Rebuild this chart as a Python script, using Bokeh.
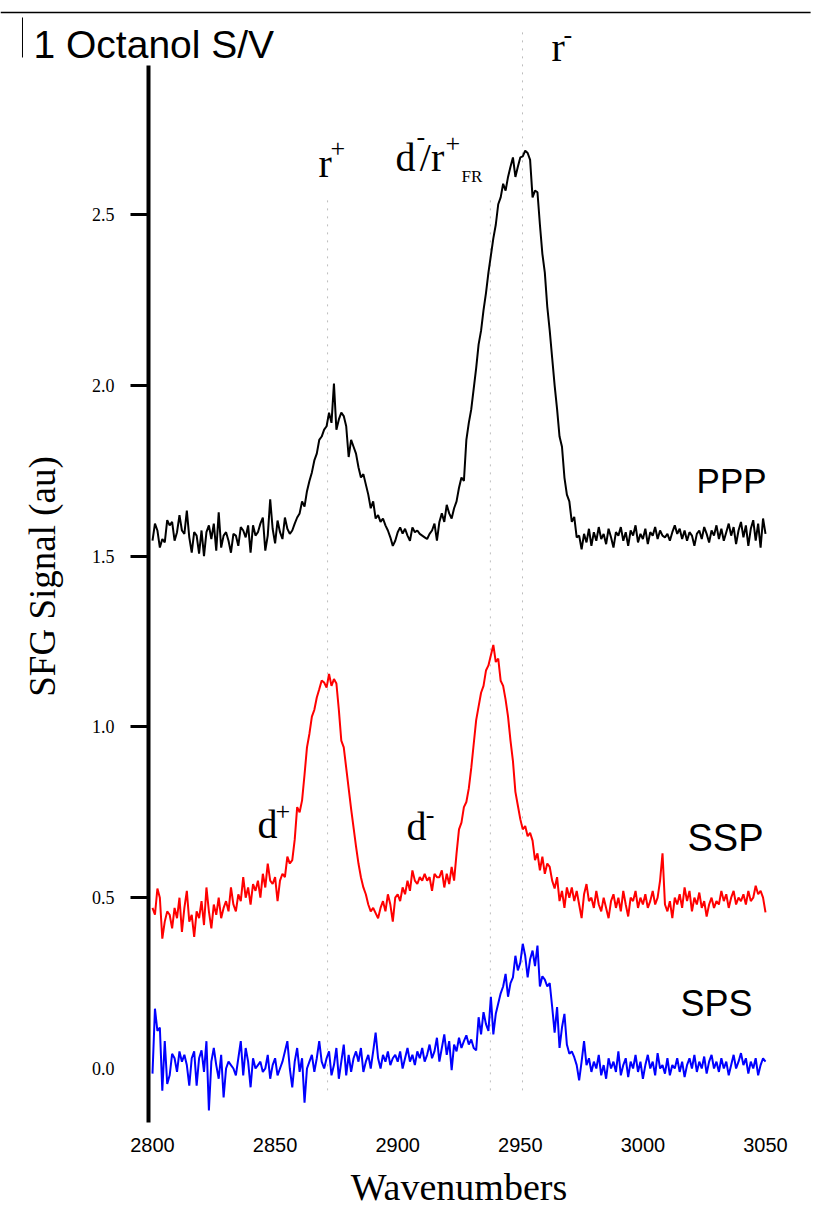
from bokeh.plotting import figure
from bokeh.models import Range1d, FixedTicker, Label, ColumnDataSource, PrintfTickFormatter
from bokeh.embed import file_html
from bokeh.resources import INLINE

wavenumbers = list(range(2800, 3051))

ppp = [
    1.545, 1.595, 1.575, 1.525, 1.55, 1.54, 1.605, 1.59, 1.60, 1.545,
    1.57, 1.62, 1.575, 1.565, 1.633, 1.555, 1.51, 1.57, 1.56, 1.507,
    1.575, 1.50, 1.57, 1.59, 1.55, 1.595, 1.516, 1.628, 1.525, 1.56,
    1.57, 1.545, 1.51, 1.565, 1.56, 1.53, 1.585, 1.575, 1.555, 1.59,
    1.51, 1.59, 1.56, 1.57, 1.595, 1.613, 1.516, 1.56, 1.666, 1.58,
    1.537, 1.604, 1.57, 1.55, 1.613, 1.58, 1.565, 1.575, 1.595, 1.613,
    1.625, 1.66, 1.645, 1.69, 1.72, 1.745, 1.78, 1.80, 1.84, 1.85,
    1.87, 1.88, 1.92, 1.89, 2.005, 1.87, 1.90, 1.92, 1.91, 1.88,
    1.79, 1.84, 1.82, 1.80, 1.76, 1.73, 1.74, 1.71, 1.68, 1.64,
    1.66, 1.61, 1.62, 1.60, 1.61, 1.59, 1.575, 1.555, 1.53, 1.545,
    1.57, 1.584, 1.566, 1.58, 1.56, 1.545, 1.584, 1.57, 1.575, 1.565,
    1.56, 1.555, 1.55, 1.565, 1.575, 1.595, 1.545, 1.60, 1.625, 1.60,
    1.65, 1.625, 1.61, 1.64, 1.66, 1.70, 1.73, 1.72, 1.84, 1.89,
    1.93, 1.99, 2.05, 2.12, 2.16, 2.22, 2.27, 2.33, 2.38, 2.43,
    2.47, 2.53, 2.55, 2.59, 2.57, 2.61, 2.64, 2.667, 2.61, 2.64,
    2.667, 2.67, 2.687, 2.68, 2.66, 2.55, 2.57, 2.565, 2.47, 2.385,
    2.33, 2.23, 2.16, 2.08, 2.00, 1.93, 1.85, 1.82, 1.73, 1.68,
    1.66, 1.60, 1.615, 1.555, 1.56, 1.52, 1.565, 1.54, 1.58, 1.53,
    1.57, 1.545, 1.585, 1.55, 1.565, 1.535, 1.58, 1.555, 1.525, 1.57,
    1.56, 1.585, 1.545, 1.57, 1.53, 1.575, 1.56, 1.59, 1.54, 1.565,
    1.55, 1.58, 1.535, 1.57, 1.56, 1.585, 1.55, 1.575, 1.56, 1.555,
    1.565, 1.545, 1.57, 1.59, 1.565, 1.58, 1.55, 1.575, 1.545, 1.57,
    1.56, 1.53, 1.565, 1.575, 1.55, 1.585, 1.565, 1.54, 1.575, 1.56,
    1.59, 1.55, 1.58, 1.545, 1.57, 1.595, 1.56, 1.585, 1.535, 1.575,
    1.6, 1.555, 1.59, 1.53, 1.58, 1.605, 1.545, 1.595, 1.525, 1.61,
    1.565,
]

ssp = [
    0.47, 0.45, 0.527, 0.50, 0.38, 0.43, 0.46, 0.45, 0.41, 0.47,
    0.44, 0.50, 0.40, 0.47, 0.52, 0.43, 0.45, 0.385, 0.46, 0.44,
    0.49, 0.42, 0.53, 0.46, 0.41, 0.48, 0.45, 0.50, 0.44, 0.47,
    0.49, 0.46, 0.53, 0.48, 0.46, 0.51, 0.49, 0.56, 0.50, 0.53,
    0.48, 0.54, 0.52, 0.55, 0.50, 0.57, 0.53, 0.60, 0.55, 0.54,
    0.56, 0.49, 0.55, 0.57, 0.56, 0.62, 0.60, 0.61, 0.67, 0.765,
    0.75, 0.785, 0.86, 0.94, 0.98, 1.03, 1.05, 1.086, 1.11, 1.136,
    1.13, 1.115, 1.155, 1.12, 1.14, 1.127, 1.05, 0.96, 0.94, 0.88,
    0.82, 0.76, 0.705, 0.65, 0.60, 0.56, 0.53, 0.51, 0.48, 0.46,
    0.47, 0.455, 0.44, 0.47, 0.49, 0.46, 0.51, 0.48, 0.43, 0.50,
    0.51, 0.49, 0.53, 0.51, 0.55, 0.52, 0.58, 0.55, 0.54, 0.56,
    0.55, 0.57, 0.55, 0.56, 0.52, 0.57, 0.56, 0.56, 0.58, 0.53,
    0.57, 0.54, 0.59, 0.55, 0.63, 0.70, 0.72, 0.765, 0.78, 0.82,
    0.88, 0.95, 1.02, 1.06, 1.10, 1.12, 1.165, 1.18, 1.21, 1.24,
    1.19, 1.20, 1.135, 1.12, 1.08, 1.03, 0.96, 0.90, 0.81, 0.77,
    0.73, 0.70, 0.71, 0.68, 0.69, 0.667, 0.61, 0.63, 0.58, 0.62,
    0.57, 0.60, 0.59, 0.55, 0.527, 0.56, 0.49, 0.52, 0.47, 0.53,
    0.50, 0.53, 0.49, 0.52, 0.48, 0.44, 0.51, 0.54, 0.49, 0.50,
    0.47, 0.52, 0.48, 0.46, 0.50, 0.47, 0.44, 0.49, 0.51, 0.47,
    0.50, 0.46, 0.52, 0.48, 0.445, 0.50, 0.49, 0.52, 0.47, 0.50,
    0.48, 0.51, 0.47, 0.49, 0.52, 0.48, 0.50, 0.55, 0.63, 0.48,
    0.46, 0.49, 0.44, 0.50, 0.48, 0.51, 0.47, 0.53, 0.49, 0.52,
    0.46, 0.50, 0.48, 0.515, 0.47, 0.49, 0.445, 0.48, 0.50, 0.47,
    0.49, 0.48, 0.52, 0.49, 0.51, 0.47, 0.50, 0.52, 0.48, 0.50,
    0.49, 0.51, 0.48, 0.52, 0.49, 0.50, 0.535, 0.51, 0.52, 0.50,
    0.457,
]

sps = [
    -0.015, 0.175, 0.11, 0.12, -0.065, 0.08, -0.045, -0.02, 0.043, 0.03,
    -0.01, 0.05, 0.02, 0.04, 0.01, -0.05, 0.03, 0.05, -0.05, 0.03,
    0.053, -0.01, 0.08, -0.123, 0.02, 0.06, 0.01, -0.03, 0.04, -0.085,
    0.0, 0.02, 0.01, 0.0, -0.02, 0.03, 0.08, -0.02, 0.06, 0.02,
    -0.055, 0.03, 0.0, 0.01, 0.02, -0.01, 0.0, 0.04, -0.03, 0.01,
    0.03, -0.02, 0.0, 0.02, 0.05, 0.08, 0.0, -0.055, 0.02, 0.06,
    -0.01, 0.03, -0.10, 0.0, 0.02, 0.04, -0.01, 0.03, 0.08, 0.02,
    0.0, 0.03, 0.05, -0.02, 0.01, 0.06, -0.03, 0.02, 0.07, -0.02,
    0.04, -0.01, 0.03, 0.05, 0.02, 0.06, -0.01, 0.02, 0.04, 0.00,
    0.05, 0.105, 0.03, 0.0, 0.04, 0.02, 0.05, 0.01, 0.03, 0.04,
    0.02, 0.05, 0.0, 0.03, 0.06, 0.02, 0.04, 0.01, 0.05, 0.03,
    0.06, 0.02, 0.04, 0.07, 0.03, 0.05, 0.09, 0.02, 0.06, 0.10,
    0.04, 0.08, -0.005, 0.07, 0.05, 0.09, 0.06, 0.08, 0.097, 0.07,
    0.085, 0.06, 0.053, 0.15, 0.10, 0.165, 0.13, 0.11, 0.21, 0.10,
    0.16, 0.19, 0.22, 0.24, 0.277, 0.21, 0.25, 0.267, 0.33, 0.287,
    0.31, 0.365, 0.33, 0.267, 0.32, 0.345, 0.30, 0.36, 0.24, 0.27,
    0.26, 0.24, 0.25, 0.18, 0.105, 0.18, 0.06, 0.12, 0.16, 0.07,
    0.043, 0.05, 0.033, 0.01, -0.035, 0.02, 0.08, 0.01, 0.03, -0.01,
    0.02, 0.0, 0.04, -0.02, 0.01, -0.03, 0.03, 0.0, 0.02, -0.01,
    0.05, -0.02, 0.01, 0.03, -0.025, 0.02, 0.0, 0.04, -0.01, 0.02,
    -0.03, 0.01, 0.04, 0.0, 0.02, -0.02, 0.045, 0.0, 0.01, -0.015,
    0.03, -0.02, 0.01, 0.0, 0.03, -0.01, 0.02, -0.025, 0.01, 0.03,
    0.0, 0.04, -0.01, 0.02, 0.0, 0.035, -0.015, 0.02, 0.04, 0.0,
    0.02, -0.01, 0.03, 0.0, 0.02, -0.02, 0.01, 0.04, 0.0, 0.02,
    0.045, 0.01, 0.03, -0.015, 0.02, 0.0, 0.03, -0.02, 0.01, 0.03,
    0.02,
]

x_ticks = [2800, 2850, 2900, 2950, 3000, 3050]
y_ticks = [0.5, 1.0, 1.5, 2.0, 2.5]

# vertical reference lines at the assigned modes
mode_x = [2871.4, 2937.8, 2950.9]
mode_top = [2.556, 2.556, 3.039]
mode_bottom = [-0.064, -0.064, -0.064]

# peak labels: (text, x, y, font size px)
peak_labels = [
    ("r", 2867.7, 2.650, 40), ("+", 2872.6, 2.693, 26),
    ("d", 2899.1, 2.6675, 40), ("-", 2907.7, 2.728, 26),
    ("/r", 2909.0, 2.6675, 40), ("+", 2919.5, 2.709, 26),
    ("FR", 2926.0, 2.6127, 17),
    ("r", 2962.7, 2.9895, 40), ("-", 2967.6, 3.027, 26),
    ("d", 2842.8, 0.7149, 40), ("+", 2850.2, 0.7523, 26),
    ("d", 2903.6, 0.7090, 40), ("-", 2911.4, 0.7436, 26),
]

# series names: (text, x, y, font size px)
series_labels = [("PPP", 3021.9, 1.7222, 35), ("SSP", 3018.2, 0.6745, 38), ("SPS", 3015.3, 0.1894, 36)]

src = ColumnDataSource(dict(x=wavenumbers, ppp=ppp, ssp=ssp, sps=sps))

p = figure(
    frame_width=814, frame_height=1212,
    x_range=Range1d(2738.010, 3069.984), y_range=Range1d(-0.42155, 3.12646),
    min_border=0, min_border_left=0, min_border_right=0, min_border_top=0, min_border_bottom=0,
    output_backend="svg", toolbar_location=None,
)
p.outline_line_color = None
p.xgrid.visible = False
p.ygrid.visible = False
p.background_fill_color = "white"
p.border_fill_color = "white"

# dotted mode lines
p.segment(x0=mode_x, y0=mode_bottom, x1=mode_x, y1=mode_top,
          line_color="#bdbdbd", line_width=1, line_dash="2 6")

p.line("x", "ppp", source=src, line_color="black", line_width=2)
p.line("x", "ssp", source=src, line_color="#ff0000", line_width=2)
p.line("x", "sps", source=src, line_color="#0000ff", line_width=2)

# x axis (drawn at the bottom of the y extent)
xa = p.xaxis[0]
xa.fixed_location = -0.158
xa.bounds = (2800, 3050)
xa.ticker = FixedTicker(ticks=x_ticks)
xa.axis_line_color = None
xa.major_tick_line_color = None
xa.minor_tick_line_color = None
xa.major_label_text_font = "Liberation Sans"
xa.major_label_text_font_size = "20px"
xa.major_label_text_color = "black"
xa.major_label_standoff = 10
xa.axis_label = "Wavenumbers"
xa.axis_label_text_font = "Liberation Serif"
xa.axis_label_text_font_size = "38px"
xa.axis_label_text_font_style = "normal"
xa.axis_label_text_color = "black"
xa.axis_label_standoff = 10

# y axis
ya = p.yaxis[0]
ya.fixed_location = 2798.37
ya.bounds = (-0.158, 2.936)
ya.ticker = FixedTicker(ticks=y_ticks)
ya.formatter = PrintfTickFormatter(format="%.1f")
ya.axis_line_width = 4
ya.axis_line_color = "black"
ya.major_tick_line_width = 3
ya.major_tick_line_color = "black"
ya.major_tick_out = 18
ya.major_tick_in = 0
ya.minor_tick_line_color = None
ya.major_label_text_font = "Liberation Serif"
ya.major_label_text_font_size = "18px"
ya.major_label_text_color = "black"
ya.major_label_standoff = 16

p.add_layout(Label(x=2784.5, y=0.0, text="0.0", text_align="right", text_baseline="middle",
                   text_font="Liberation Serif", text_font_size="18px", text_color="black"))

p.add_layout(Label(x=2755.14, y=1.4403, text="SFG Signal (au)", angle=90, angle_units="deg",
                   text_align="center", text_baseline="middle",
                   text_font="Liberation Serif", text_font_size="37px", text_color="black"))

# title and decorations
p.add_layout(Label(x=2751.47, y=2.9971, text="1 Octanol S/V", text_baseline="alphabetic",
                   text_font="Liberation Sans", text_font_size="39px", text_color="black"))
p.segment(x0=[2738.01], y0=[3.0913], x1=[3068.4], y1=[3.0913], line_color="black", line_width=1.5)
p.segment(x0=[2746.98], y0=[2.9596], x1=[2746.98], y1=[3.0767], line_color="black", line_width=1)

for txt, lx, ly, fs in peak_labels:
    p.add_layout(Label(x=lx, y=ly, text=txt, text_baseline="alphabetic",
                       text_font="Liberation Serif", text_font_size=f"{fs}px", text_color="black"))

for txt, lx, ly, fs in series_labels:
    p.add_layout(Label(x=lx, y=ly, text=txt, text_baseline="alphabetic",
                       text_font="Liberation Sans", text_font_size=f"{fs}px", text_color="black"))

open("out.html", "w").write(file_html(p, INLINE))
